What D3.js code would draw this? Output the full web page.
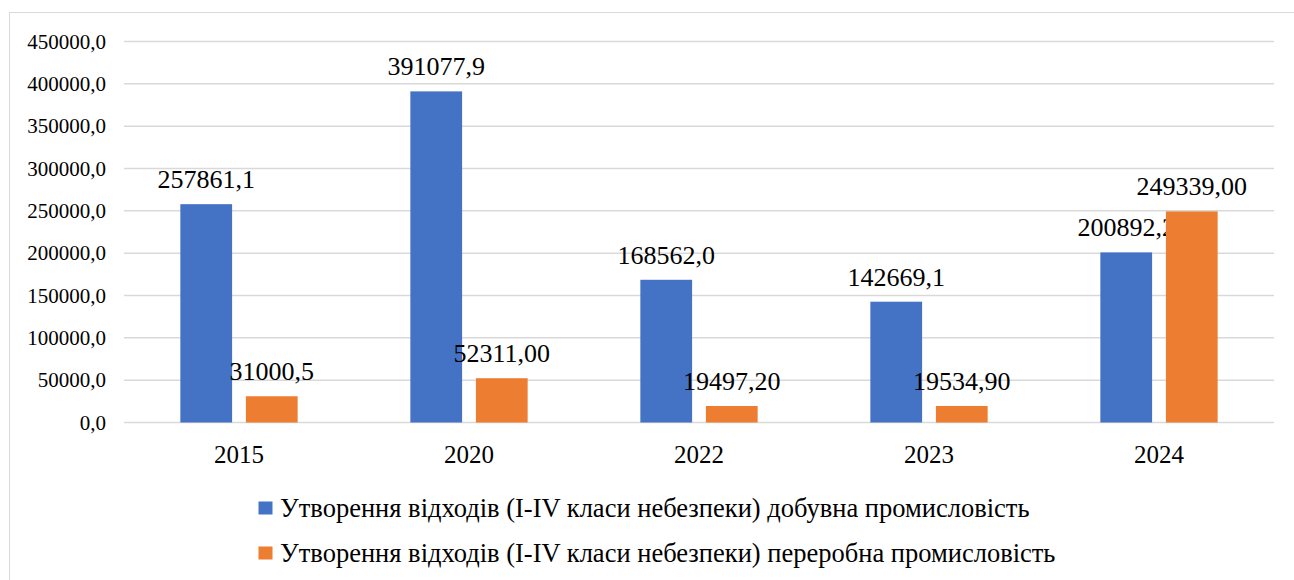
<!DOCTYPE html>
<html>
<head>
<meta charset="utf-8">
<script src="https://cdn.jsdelivr.net/npm/d3@7"></script>
<style>
  body { margin: 0; background: #fff; }
  svg text { font-family: "Times New Roman", "Liberation Serif", Tinos, serif; }
</style>
</head>
<body>
<div class="chart"></div>
<script>
// Data
var years = ["2015", "2020", "2022", "2023", "2024"];
var extraction = [257861.1, 391077.9, 168562.0, 142669.1, 200892.2];
var processing = [31000.5, 52311.00, 19497.20, 19534.90, 249339.00];
var extractionLabels = ["257861,1", "391077,9", "168562,0", "142669,1", "200892,2"];
var processingLabels = ["31000,5", "52311,00", "19497,20", "19534,90", "249339,00"];
var yTicks = [0, 50000, 100000, 150000, 200000, 250000, 300000, 350000, 400000, 450000];
var seriesNames = [
    "Утворення відходів (I-IV класи небезпеки) добувна промисловість",
    "Утворення відходів (I-IV класи небезпеки) переробна промисловість"
];
var colors = ["#4472C4", "#ED7D31"];

var FONT = "'Times New Roman', 'Liberation Serif', Tinos, serif";
var svgWidth = 1294;
var svgHeight = 580;
var plot = { left: 124, right: 1274, top: 41.5, bottom: 422.5 };

var svg = d3.select(".chart")
    .append("svg")
    .attr("width", svgWidth)
    .attr("height", svgHeight)
    .style("font-family", FONT);

// outer frame (only top and left visible)
svg.append("rect")
    .attr("x", 9.5).attr("y", 12.5)
    .attr("width", 1400).attr("height", 700)
    .attr("fill", "none")
    .attr("stroke", "#d9d9d9")
    .attr("stroke-width", 1);

var x = d3.scaleBand()
    .domain(years)
    .range([plot.left, plot.right]);
var y = d3.scaleLinear()
    .domain([0, 450000])
    .range([plot.bottom, plot.top]);

// gridlines
svg.append("g").selectAll("line")
    .data(yTicks)
    .enter()
    .append("line")
    .attr("x1", plot.left).attr("x2", plot.right)
    .attr("y1", d => y(d)).attr("y2", d => y(d))
    .attr("stroke", "#d9d9d9")
    .attr("stroke-width", 1.5);

// y axis labels
svg.append("g").selectAll("text")
    .data(yTicks)
    .enter()
    .append("text")
    .attr("x", 106)
    .attr("y", d => y(d))
    .attr("dy", "0.34em")
    .attr("text-anchor", "end")
    .style("font-size", "21px")
    .text(d => d3.format("d")(d) + ",0");

// bars + value labels
var bw = x.bandwidth() * 0.225;
var gap = x.bandwidth() * 0.06;
var series = [extraction, processing];
var labels = [extractionLabels, processingLabels];
series.forEach((vals, s) => {
    var offset = s === 0 ? -gap / 2 - bw : gap / 2;
    var g = svg.append("g");
    g.selectAll("rect")
        .data(vals)
        .enter()
        .append("rect")
        .attr("x", (d, i) => x(years[i]) + x.bandwidth() / 2 + offset)
        .attr("y", d => y(d))
        .attr("width", bw)
        .attr("height", d => y(0) - y(d))
        .attr("fill", colors[s]);
    g.selectAll("text")
        .data(vals)
        .enter()
        .append("text")
        .attr("x", (d, i) => x(years[i]) + x.bandwidth() / 2 + offset + bw / 2)
        .attr("y", d => y(d) - 16)
        .attr("text-anchor", "middle")
        .style("font-size", "26px")
        .text((d, i) => labels[s][i]);
});

// x axis labels
svg.append("g").selectAll("text")
    .data(years)
    .enter()
    .append("text")
    .attr("x", d => x(d) + x.bandwidth() / 2)
    .attr("y", 463)
    .attr("text-anchor", "middle")
    .style("font-size", "25px")
    .text(d => d);

// legend
var legend = svg.append("g");
seriesNames.forEach((name, i) => {
    var ly = 516.5 + i * 45;
    legend.append("rect")
        .attr("x", 258.5).attr("y", ly - 15)
        .attr("width", 14).attr("height", 13)
        .attr("fill", colors[i]);
    legend.append("text")
        .attr("x", 280)
        .attr("y", ly)
        .style("font-size", "26.5px")
        .text(name);
});
</script>
</body>
</html>
